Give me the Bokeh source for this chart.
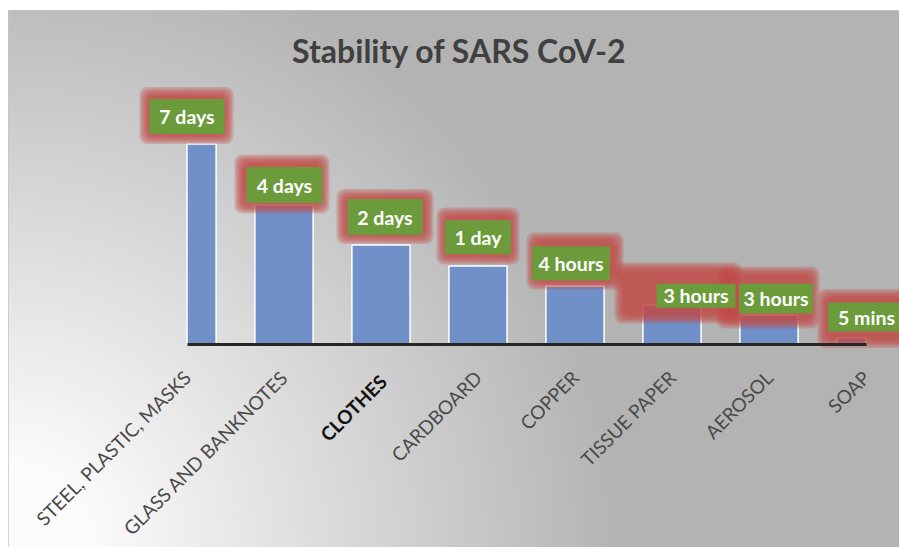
import numpy as np
from math import pi
from bokeh.plotting import figure
from bokeh.models import Range1d, LinearAxis, FixedTicker, Label
from bokeh.models.glyphs import Rect
from bokeh.core.properties import value
from bokeh.embed import file_html
from bokeh.resources import INLINE

# ---- data ----
categories = ["STEEL, PLASTIC, MASKS", "GLASS AND BANKNOTES", "CLOTHES", "CARDBOARD",
              "COPPER", "TISSUE PAPER", "AEROSOL", "SOAP"]
stability = [10, 6.95, 4.95, 3.9, 2.9, 1.95, 1.45, 0.3]
duration_labels = ["7 days", "4 days", "2 days", "1 day", "4 hours", "3 hours", "3 hours", "5 mins"]
highlight_category = "CLOTHES"
title_text = "Stability of SARS CoV-2"

# ---- style (pixel geometry of the label boxes, relative to each bar top) ----
box_dx = [0, 0.5, 4, 0, -4, 24, 7, 0.5]
box_dy = [27.5, 20, 28, 28.7, 22.7, 9.3, 16.5, 21]
box_w = [75, 76, 75, 66, 78, 79, 74, 77]
box_h = [35, 36, 36, 34, 34, 24, 30, 29]
glow_dx = [-0.5, -2, 4, 0, 0, 6, -1, 0]
glow_dy = [28.5, 21, 28.5, 30, 25, 12, 17.5, 19.5]
glow_w = [94, 95, 97, 83, 97, 127, 103, 97]
glow_h = [57, 59, 55, 57, 57, 61, 62, 59]

FW, FH = 891, 537      # frame size
LEFT, TOP = 8, 10
x_step = 97.0
y_step = 20.0
x0_px = 178.5
base_px = 333.5

xs = -x0_px / x_step
xe = xs + FW / x_step
ye = base_px / y_step
ys = ye - FH / y_step

p = figure(width=FW + LEFT, height=FH + TOP, output_backend="svg", toolbar_location=None,
           x_range=Range1d(xs, xe), y_range=Range1d(ys, ye),
           x_axis_location=None, y_axis_location=None,
           min_border_left=LEFT, min_border_right=0, min_border_bottom=0, min_border_top=TOP)
p.border_fill_color = "white"
p.outline_line_color = "#c6c6c6"
p.xgrid.visible = False
p.ygrid.visible = False

# background gradient (radial, light at bottom-left)
gw_, gh_ = 297, 179
cx = (np.arange(gw_) + 0.5) * FW / gw_
cy = (np.arange(gh_) + 0.5) * FH / gh_
X, Y = np.meshgrid(cx, cy)
d = np.hypot(X, Y)
t = np.clip((620 - d) / (620 - 80), 0, 1)
v = (179 + (252 - 179) * t).astype(np.uint8)
img = np.empty((gh_, gw_), dtype=np.uint32)
view = img.view(dtype=np.uint8).reshape((gh_, gw_, 4))
view[..., 0] = v
view[..., 1] = v
view[..., 2] = v
view[..., 3] = 255
p.image_rgba(image=[img], x=xs, y=ys, dw=xe - xs, dh=ye - ys)

# bars (end bars are cut at the category centre, as in the original)
x = np.arange(len(categories), dtype=float)
vals = np.array(stability)
half = 0.3
left = np.maximum(x - half, x[0])
right = np.minimum(x + half, x[-1])
p.quad(left=left, right=right, bottom=0, top=vals, fill_color="#7190c8",
       line_color="white", line_width=1.5)

rkw = {"border_radius": 8} if "border_radius" in Rect.properties() else {}

# red glow around labels
gx = x + np.array(glow_dx) / x_step
gy = vals + np.array(glow_dy) / y_step
for k in range(6):
    shrink = 3.5 * k
    p.rect(x=gx, y=gy, width=np.array(glow_w) - shrink, height=np.array(glow_h) - shrink,
           width_units="screen", height_units="screen",
           fill_color="#c24a48", fill_alpha=0.28, line_color=None, **rkw)

# green label boxes
bx = x + np.array(box_dx) / x_step
by = vals + np.array(box_dy) / y_step
p.rect(x=bx, y=by, width=box_w, height=box_h, width_units="screen", height_units="screen",
       fill_color="#6b9b3a", line_color=None)
p.text(x=bx, y=by, text=duration_labels, text_font=value("Lato"), text_font_style="bold",
       text_font_size="19.5px", text_color="white", text_align="center", text_baseline="middle")

# category axis on the baseline
STANDOFF = 30
hi = categories.index(highlight_category)
overrides = {i: ("" if i == hi else c) for i, c in enumerate(categories)}
ax = LinearAxis(fixed_location=0, bounds=(0, len(categories) - 1),
                ticker=FixedTicker(ticks=list(range(len(categories)))),
                major_label_overrides=overrides,
                major_label_orientation=pi / 4,
                major_tick_out=0, major_tick_in=0, minor_tick_out=0, minor_tick_in=0,
                axis_line_width=3, axis_line_color="#262626",
                major_label_text_font="Lato", major_label_text_font_size="19px",
                major_label_text_color="#4a4a4a", major_label_standoff=STANDOFF)
p.add_layout(ax, "below")
# the emphasised category label (bold, black) on the same tick
p.text(x=[x[hi]], y=[0], text=[highlight_category], angle=pi / 4,
       y_offset=STANDOFF + 4, x_offset=2,
       text_font=value("Lato"), text_font_style="bold", text_font_size="19px",
       text_color="#111111", text_align="right", text_baseline="middle")

title = Label(x=451, y=FH - 40, x_units="screen", y_units="screen", text=title_text,
              text_font="Lato", text_font_style="bold", text_font_size="32px",
              text_color="#404040", text_align="center", text_baseline="alphabetic")
p.add_layout(title)

open("out.html", "w").write(file_html(p, INLINE))
